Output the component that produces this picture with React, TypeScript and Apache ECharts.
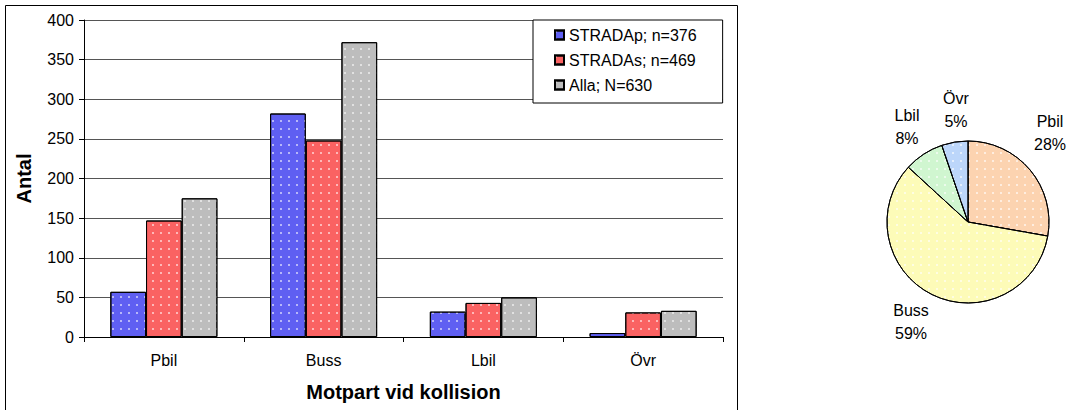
import React, { useEffect, useRef } from "react";
import * as echarts from "echarts";

const categories = ["Pbil", "Buss", "Lbil", "Övr"];
const stradaP = [57, 282, 32, 5];
const stradaS = [147, 248, 43, 31];
const alla = [175, 372, 50, 33];
const seriesNames = ["STRADAp; n=376", "STRADAs; n=469", "Alla; N=630"];
const yTicks = { min: 0, max: 400, interval: 50 };
const barColors = ["#5f5ff2", "#fa6262", "#bdbdbd"];
const pieColors = ["#fcd3b0", "#fdfbb8", "#d0f6d0", "#bcd6fa"];

const FONT = "Liberation Sans, Arial, sans-serif";
const PIE_CENTER = [968, 222];
// label placement relative to the pie centre (layout, not data)
const pieLabelOffsets = [
  [82, -89],
  [-57, 100],
  [-61, -95],
  [-12, -112],
];

export default function App() {
  const ref = useRef<HTMLDivElement>(null);
  useEffect(() => {
    if (!ref.current) return;
    const chart = echarts.init(ref.current, null, { renderer: "svg" });
    const decal = (c: string) => ({
      symbol: "rect",
      symbolSize: 1,
      color: c,
      dashArrayX: [2, 6],
      dashArrayY: [2, 6],
      rotation: 0,
    });
    const barSeries = (name: string, data: number[], color: string) => ({
      type: "bar",
      name,
      data,
      barGap: "0%",
      barCategoryGap: "33%",
      itemStyle: {
        color,
        borderColor: "#000",
        borderWidth: 1,
        decal: decal("rgba(255,255,255,0.55)"),
      },
    });
    chart.setOption({
      animation: false,
      textStyle: { fontFamily: FONT },
      graphic: [
        {
          type: "rect",
          shape: { x: 5.5, y: 5.5, width: 732, height: 420 },
          style: { fill: "none", stroke: "#000", lineWidth: 1 },
          silent: true,
          z: -1,
        },
      ],
      grid: { left: 84, right: 347, top: 20, bottom: 73 },
      legend: {
        orient: "vertical",
        left: 533,
        top: 20,
        backgroundColor: "#fff",
        borderColor: "#000",
        borderWidth: 1,
        padding: [7, 26, 10, 21],
        itemGap: 9,
        itemWidth: 9,
        itemHeight: 9,
        icon: "rect",
        textStyle: { fontSize: 16, color: "#000", fontFamily: FONT },
        data: seriesNames,
      },
      xAxis: {
        type: "category",
        data: categories,
        axisLine: { lineStyle: { color: "#000" } },
        axisTick: { show: true, length: 5, lineStyle: { color: "#000" } },
        axisLabel: { color: "#000", fontSize: 16, margin: 15, fontFamily: FONT },
        name: "Motpart vid kollision",
        nameLocation: "middle",
        nameGap: 45,
        nameTextStyle: { fontWeight: "bold", fontSize: 20, color: "#000", fontFamily: FONT },
      },
      yAxis: {
        type: "value",
        min: yTicks.min,
        max: yTicks.max,
        interval: yTicks.interval,
        axisLine: { show: true, lineStyle: { color: "#000" } },
        axisTick: { show: true, length: 5, lineStyle: { color: "#000" } },
        axisLabel: { color: "#000", fontSize: 16, margin: 10, fontFamily: FONT },
        splitLine: { lineStyle: { color: "#555", width: 1 } },
        name: "Antal",
        nameLocation: "middle",
        nameGap: 50,
        nameRotate: 90,
        nameTextStyle: { fontWeight: "bold", fontSize: 20, color: "#000", fontFamily: FONT },
      },
      series: [
        barSeries(seriesNames[0], stradaP, barColors[0]),
        barSeries(seriesNames[1], stradaS, barColors[1]),
        barSeries(seriesNames[2], alla, barColors[2]),
        {
          type: "pie",
          center: PIE_CENTER,
          radius: 81,
          startAngle: 90,
          clockwise: true,
          data: categories.map((c, i) => ({
            name: c,
            value: alla[i],
            itemStyle: { color: pieColors[i] },
          })),
          itemStyle: {
            borderColor: "#000",
            borderWidth: 1,
            decal: decal("rgba(255,255,255,0.6)"),
          },
          label: {
            show: true,
            position: "outside",
            formatter: "{b}\n{d}%",
            color: "#000",
            fontSize: 16,
            lineHeight: 23,
            overflow: "none",
            fontFamily: FONT,
          },
          labelLine: { show: false, length: 20, length2: 0 },
          labelLayout: (p: any) => {
            const o = pieLabelOffsets[p.dataIndex] || [0, 0];
            return {
              x: PIE_CENTER[0] + o[0],
              y: PIE_CENTER[1] + o[1],
              align: "center",
              verticalAlign: "middle",
            };
          },
          percentPrecision: 0,
        },
      ],
    });
    return () => chart.dispose();
  }, []);
  return (
    <div
      ref={ref}
      style={{ position: "fixed", left: 0, top: 0, width: 1070, height: 410, background: "#fff" }}
    />
  );
}
